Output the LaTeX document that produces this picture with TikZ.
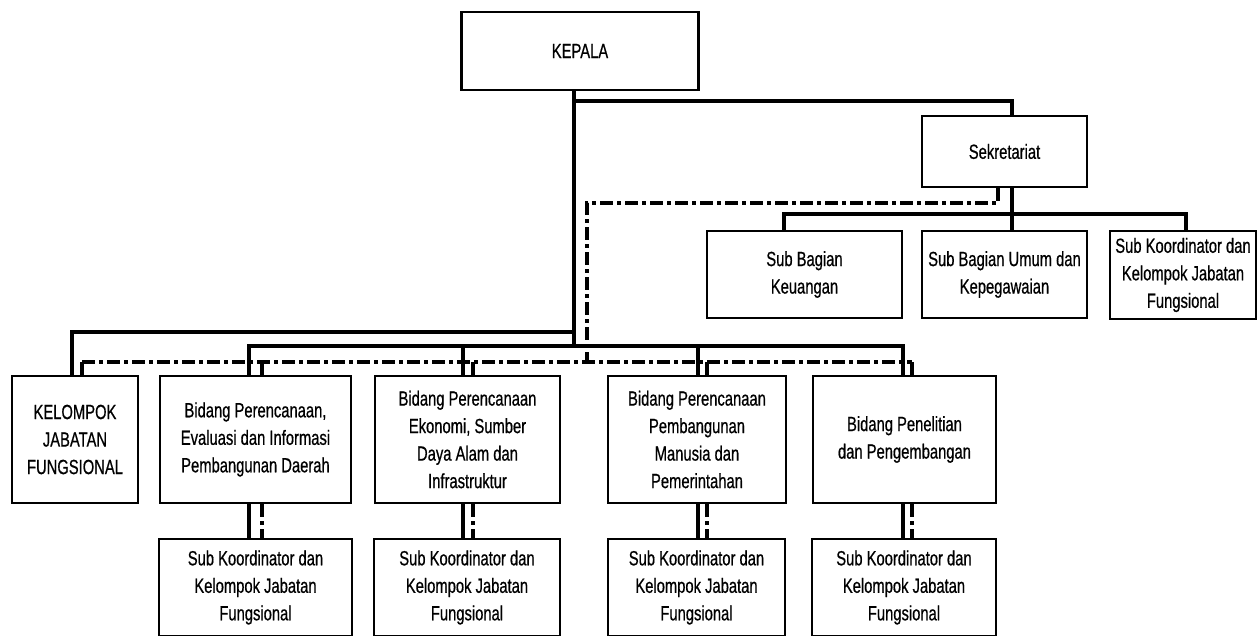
\documentclass[tikz,border=0pt]{standalone}
\usepackage{fontspec}
\setmainfont{Liberation Sans}[FakeStretch=0.72,FakeBold=0.6]
\begin{document}
\begin{tikzpicture}[x=1pt,y=-1pt,
  box/.style={draw=black, line width=2.6pt, fill=white, align=center, inner sep=0pt,
    font=\fontsize{20.5}{27.5}\selectfont},
  conn/.style={line width=3.6pt, line cap=rect},
  dd/.style={line width=3.4pt, dash pattern=on 13pt off 4pt on 4pt off 4pt}]
\useasboundingbox (0,0) rectangle (1259,635);
\coordinate (j0) at (574,101);
\coordinate (j1) at (574,332);
\coordinate (j2) at (574,346);
\coordinate (j2w) at (249,346);
\coordinate (j2e) at (903,346);
\coordinate (k1w) at (784,214);
\coordinate (k1e) at (1186,214);
\coordinate (d2) at (587,203);
\coordinate (d3) at (587,362);
\coordinate (dw) at (82,362);
\coordinate (de) at (912,362);

% boxes
\node[box, minimum width=237pt, minimum height=78pt] (kepala) at (580,51) {KEPALA};
\node[box, minimum width=165pt, minimum height=71pt] (sek) at (1004.5,151.5) {Sekretariat};
\node[box, minimum width=195pt, minimum height=87pt] (keu) at (804.5,274.5) {Sub Bagian\\Keuangan};
\node[box, minimum width=165pt, minimum height=87pt] (umum) at (1004.5,274.5) {Sub Bagian Umum dan\\Kepegawaian};
\node[box, minimum width=146pt, minimum height=88pt] (skr) at (1183,275) {Sub Koordinator dan\\Kelompok Jabatan\\Fungsional};
\node[box, minimum width=126pt, minimum height=127pt] (kjf) at (75,439.5) {KELOMPOK\\JABATAN\\FUNGSIONAL};
\node[box, minimum width=191pt, minimum height=127pt] (b1) at (255.5,439.5) {Bidang Perencanaan,\\Evaluasi dan Informasi\\Pembangunan Daerah};
\node[box, minimum width=185pt, minimum height=127pt] (b2) at (467.5,439.5) {Bidang Perencanaan\\Ekonomi, Sumber\\Daya Alam dan\\Infrastruktur};
\node[box, minimum width=178pt, minimum height=127pt] (b3) at (697,439.5) {Bidang Perencanaan\\Pembangunan\\Manusia dan\\Pemerintahan};
\node[box, minimum width=183pt, minimum height=127pt] (b4) at (904.5,439.5) {Bidang Penelitian\\dan Pengembangan};
\node[box, minimum width=193pt, minimum height=97pt] (s1) at (255.5,587.5) {Sub Koordinator dan\\Kelompok Jabatan\\Fungsional};
\node[box, minimum width=186pt, minimum height=97pt] (s2) at (467,587.5) {Sub Koordinator dan\\Kelompok Jabatan\\Fungsional};
\node[box, minimum width=177pt, minimum height=97pt] (s3) at (696.5,587.5) {Sub Koordinator dan\\Kelompok Jabatan\\Fungsional};
\node[box, minimum width=184pt, minimum height=97pt] (s4) at (904,587.5) {Sub Koordinator dan\\Kelompok Jabatan\\Fungsional};

% solid connectors
\coordinate (kb) at ([xshift=-6pt]kepala.south);
\draw[conn] (kb) -- (j2);
\coordinate (st) at ([xshift=7.5pt]sek.north);
\draw[conn] (j0) -| (st);
\coordinate (kt) at ([xshift=-3pt]kjf.north);
\draw[conn] (j1) -| (kt);
\draw[conn] (j2w) -- (j2e);
\foreach \i/\dx in {1/-6.5, 2/-4.5, 3/1, 4/-1.5}{
  \coordinate (t) at ([xshift=\dx pt]b\i.north);
  \coordinate (u) at ([xshift=\dx pt]b\i.south);
  \draw[conn] (t) -- (t |- j2w);
  \draw[conn] (u) -- (u |- s\i.north);
}
\coordinate (sb) at ([xshift=7.5pt]sek.south);
\draw[conn] (sb) -- (sb |- umum.north);
\draw[conn] (k1w) -- (k1e);
\draw[conn] (k1w) -- (k1w |- keu.north);
\draw[conn] (k1e) -- (k1e |- skr.north);

% dash-dot connectors
\coordinate (sd) at ([xshift=-6.5pt]sek.south);
\draw[dd] (sd) |- (d2) -- (d3);
\draw[dd] (dw) -- (de);
\draw[dd] (dw) -- (dw |- kjf.north);
\foreach \i/\dx in {1/6.5, 2/5.5, 3/10, 4/7.5}{
  \coordinate (t) at ([xshift=\dx pt]b\i.north);
  \coordinate (u) at ([xshift=\dx pt]b\i.south);
  \draw[dd] (t |- dw) -- (t);
  \draw[dd] (u) -- (u |- s\i.north);
}
\end{tikzpicture}
\end{document}
